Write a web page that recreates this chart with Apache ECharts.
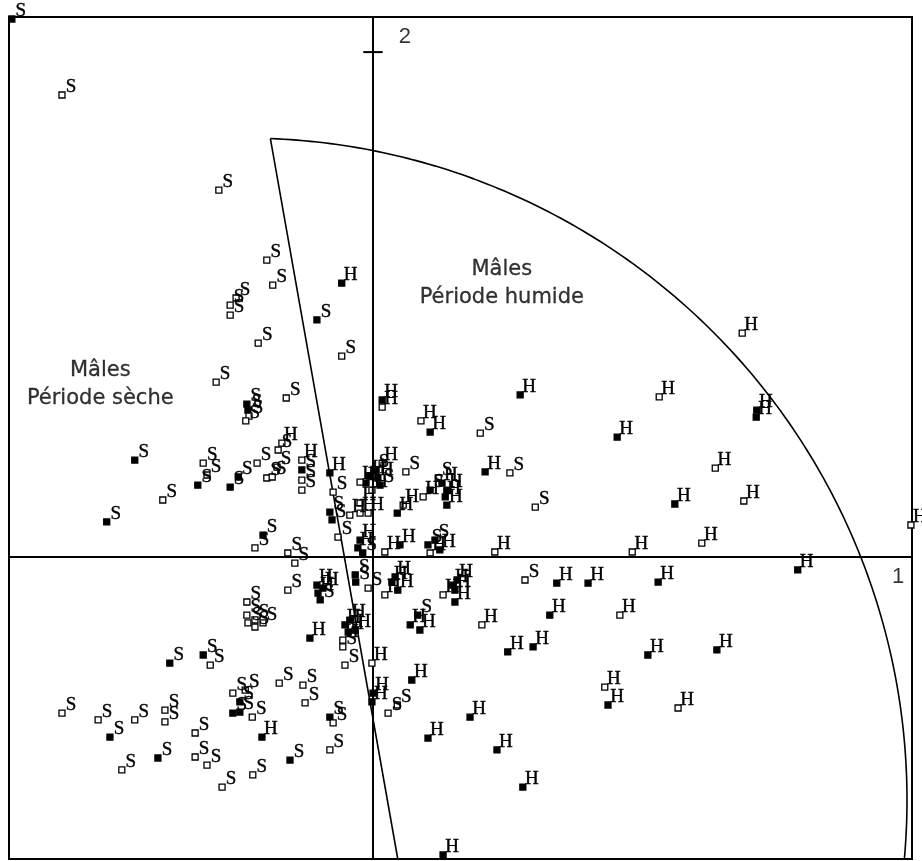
<!DOCTYPE html>
<html>
<head>
<meta charset="utf-8">
<script src="https://cdn.jsdelivr.net/npm/echarts@6/dist/echarts.min.js"></script>
<style>
html,body{margin:0;padding:0;background:#fff;}
#chart{width:922px;height:861px;}
</style>
</head>
<body>
<div id="chart"></div>
<script>
// Axis ranges (factor 1 horizontal, factor 2 vertical)
const xRange = [-0.6753, 1.0];
const yRange = [-1.196, 2.139];
const xTickLabels = [1];
const yTickLabels = [2];

// "S" individuals (dry season), filled / hollow markers
const sFilled = [
[-0.670,2.131],[-0.234,0.606],[-0.232,0.582],[-0.442,0.384],[-0.325,0.285],[-0.494,0.139],
[-0.265,0.277],[-0.250,0.317],[-0.132,0.345],[-0.204,0.087],[-0.104,0.939],[0.004,0.345],
[0.013,0.285],[0.106,0.265],[-0.080,0.178],[-0.076,0.147],[-0.019,0.016],[0.102,0.048],
[0.115,0.067],[0.083,-0.230],[-0.098,-0.170],[-0.033,-0.071],[-0.032,-0.099],[-0.080,-0.634],
[-0.377,-0.420],[-0.315,-0.388],[-0.488,-0.713],[-0.399,-0.796],[-0.154,-0.804],[-0.247,-0.574],
[-0.260,-0.618],[-0.247,-0.614]
];
const sHollow = [
[-0.577,1.830],[-0.286,1.453],[-0.197,1.176],[-0.186,1.077],[-0.265,0.998],[-0.265,0.958],
[-0.254,1.026],[-0.213,0.847],[-0.291,0.693],[-0.161,0.630],[-0.230,0.558],[-0.236,0.539],
[-0.315,0.372],[-0.308,0.325],[-0.390,0.226],[-0.215,0.372],[-0.197,0.313],[-0.178,0.356],
[-0.176,0.424],[-0.187,0.317],[-0.132,0.305],[-0.132,0.265],[-0.219,0.036],[-0.058,0.796],
[0.199,0.491],[0.254,0.333],[0.301,0.198],[0.061,0.337],[0.121,0.313],[-0.074,0.257],
[-0.065,0.079],[0.282,-0.091],[-0.009,-0.123],[0.028,-0.618],[0.045,-0.586],[-0.056,-0.356],
[-0.052,-0.428],[-0.130,-0.507],[-0.126,-0.578],[-0.074,-0.657],[-0.080,-0.764],[-0.158,0.016],
[-0.145,-0.024],[-0.158,-0.131],[-0.234,-0.178],[-0.234,-0.230],[-0.232,-0.261],[-0.219,-0.249],
[-0.219,-0.277],[-0.204,-0.261],[-0.302,-0.428],[-0.174,-0.499],[-0.577,-0.618],[-0.510,-0.645],
[-0.442,-0.645],[-0.386,-0.606],[-0.386,-0.653],[-0.330,-0.697],[-0.330,-0.792],[-0.308,-0.824],
[-0.466,-0.843],[-0.280,-0.911],[-0.223,-0.863],[-0.260,-0.539],[-0.237,-0.527],[-0.224,-0.634]
];
// "H" individuals (wet season), filled / hollow markers
const hFilled = [
[-0.058,1.085],[0.017,0.622],[0.106,0.495],[0.273,0.642],[0.208,0.337],[-0.013,0.293],
[-0.006,0.321],[0.009,0.313],[0.128,0.293],[0.137,0.265],[0.134,0.238],[0.137,0.206],
[0.045,0.174],[-0.080,0.333],[-0.024,0.067],[-0.028,0.036],[0.050,0.048],[0.124,0.028],
[0.560,0.210],[0.453,0.475],[0.711,0.554],[0.712,0.582],[0.788,-0.051],[0.529,-0.099],
[0.510,-0.388],[0.638,-0.368],[0.436,-0.586],[0.341,-0.103],[0.399,-0.103],[0.328,-0.230],
[0.250,-0.376],[0.297,-0.356],[0.072,-0.487],[0.180,-0.634],[0.102,-0.717],[0.230,-0.764],
[0.278,-0.911],[0.130,-1.180],[0.148,-0.111],[0.156,-0.091],[0.152,-0.131],[0.152,-0.178],
[0.035,-0.099],[0.041,-0.079],[0.046,-0.131],[0.069,-0.269],[0.087,-0.289],[0.000,-0.539],
[-0.002,-0.574],[-0.104,-0.111],[-0.102,-0.143],[-0.093,-0.123],[-0.117,-0.321],[-0.052,-0.269],
[-0.043,-0.250],[-0.046,-0.297],[-0.033,-0.289],[-0.206,-0.713]
];
const hHollow = [
[-0.169,0.451],[-0.132,0.384],[0.017,0.594],[0.089,0.539],[0.017,0.372],[-0.002,0.265],
[-0.024,0.297],[0.093,0.238],[0.056,0.206],[-0.024,0.214],[-0.024,0.174],[-0.009,0.174],
[-0.043,0.166],[0.022,0.020],[0.106,0.016],[0.226,0.020],[0.481,0.020],[0.610,0.055],
[0.688,0.222],[0.635,0.352],[0.531,0.634],[0.685,0.887],[0.998,0.127],[0.458,-0.230],
[0.430,-0.515],[0.566,-0.598],[0.202,-0.269],[0.130,-0.150],[0.022,-0.150],[-0.002,-0.420],
[-0.056,-0.329]
];

// Annotation texts and their anchor positions (data units)
const noteTexts = ['Mâles\nPériode humide', 'Mâles\nPériode sèche'];
const noteX = [0.239, -0.506];
const noteY = [1.085, 0.685];

// Separating arc (ellipse in data units) and dividing line end
const arcCenter = [-0.2375, -0.9624];
const arcRadii = [1.2282, 2.6218];
const arcAngles = [87.8, -5.2];
const dividerEndX = 0.046;

function arcPoints() {
  const pts = [];
  const n = 160;
  for (let i = 0; i <= n; i++) {
    const a = (arcAngles[0] + (arcAngles[1] - arcAngles[0]) * i / n) * Math.PI / 180;
    pts.push([arcCenter[0] + arcRadii[0] * Math.cos(a), arcCenter[1] + arcRadii[1] * Math.sin(a)]);
  }
  return pts;
}
const arcPts = arcPoints();
const dividerPts = [arcPts[0], [dividerEndX, yRange[0]]];

const chart = echarts.init(document.getElementById('chart'), null, {renderer: 'canvas'});

function pointSeries(name, data, letter, filled) {
  return {
    name: name,
    type: 'scatter',
    data: data,
    symbol: 'rect',
    symbolSize: 6,
    clip: false,
    z: 5,
    itemStyle: {color: filled ? '#000' : '#fff', borderColor: '#000', borderWidth: 1.3, opacity: 1},
    label: {
      show: true, position: 'inside', offset: [9, -8],
      formatter: letter, color: '#000', textBorderColor: '#000', textBorderWidth: 0.4,
      fontFamily: 'Liberation Serif', fontSize: 19, align: 'center', verticalAlign: 'middle'
    },
    emphasis: {disabled: true},
    silent: true
  };
}

const yTickHalf = 0.018;

const option = {
  animation: false,
  backgroundColor: '#fff',
  grid: {left: 9, right: 10, top: 17, bottom: 2, show: true, borderColor: '#000', borderWidth: 2,
         backgroundColor: 'transparent', containLabel: false, outerBoundsMode: 'none'},
  xAxis: {
    type: 'value', min: xRange[0], max: xRange[1],
    splitLine: {show: false}, axisTick: {show: false}, axisLabel: {show: false},
    axisLine: {show: true, onZero: true, lineStyle: {color: '#000', width: 2}}
  },
  yAxis: {
    type: 'value', min: yRange[0], max: yRange[1],
    splitLine: {show: false}, axisTick: {show: false}, axisLabel: {show: false},
    axisLine: {show: true, onZero: true, lineStyle: {color: '#000', width: 2}}
  },
  series: [
    {
      type: 'line', data: arcPts, showSymbol: false, symbol: 'none', clip: true,
      lineStyle: {color: '#000', width: 1.6}, z: 3, silent: true
    },
    {
      type: 'line', data: dividerPts, showSymbol: false, symbol: 'none', clip: true,
      lineStyle: {color: '#000', width: 1.6}, z: 3, silent: true
    },
    {
      type: 'line', data: [[-yTickHalf, yTickLabels[0]], [yTickHalf, yTickLabels[0]]],
      showSymbol: false, symbol: 'none', lineStyle: {color: '#000', width: 2}, z: 3, silent: true
    },
    // tick labels
    {
      type: 'scatter', symbolSize: 0, silent: true, z: 6, clip: false,
      data: [{value: [0, yTickLabels[0]], name: String(yTickLabels[0])}],
      label: {show: true, position: 'inside', offset: [32, -15], formatter: p => p.name,
              color: '#000', fontFamily: 'Liberation Sans', fontSize: 22, align: 'center', verticalAlign: 'middle'}
    },
    {
      type: 'scatter', symbolSize: 0, silent: true, z: 6, clip: false,
      data: [{value: [xTickLabels[0], 0], name: String(xTickLabels[0])}],
      label: {show: true, position: 'inside', offset: [-14, 20], formatter: p => p.name,
              color: '#000', fontFamily: 'Liberation Sans', fontSize: 22, align: 'center', verticalAlign: 'middle'}
    },
    pointSeries('S plein', sFilled, 'S', true),
    pointSeries('S vide', sHollow, 'S', false),
    pointSeries('H plein', hFilled, 'H', true),
    pointSeries('H vide', hHollow, 'H', false),
    {
      type: 'scatter', symbolSize: 0, silent: true, z: 6,
      data: noteTexts.map((t, i) => ({name: t, value: [noteX[i], noteY[i]]})),
      label: {
        show: true, position: 'inside', formatter: p => p.name,
        color: '#000', textBorderColor: '#000', textBorderWidth: 0.3,
        fontFamily: 'DejaVu Sans', fontSize: 21, lineHeight: 28, align: 'center', verticalAlign: 'middle'
      }
    }
  ]
};
chart.setOption(option);
</script>
</body>
</html>
